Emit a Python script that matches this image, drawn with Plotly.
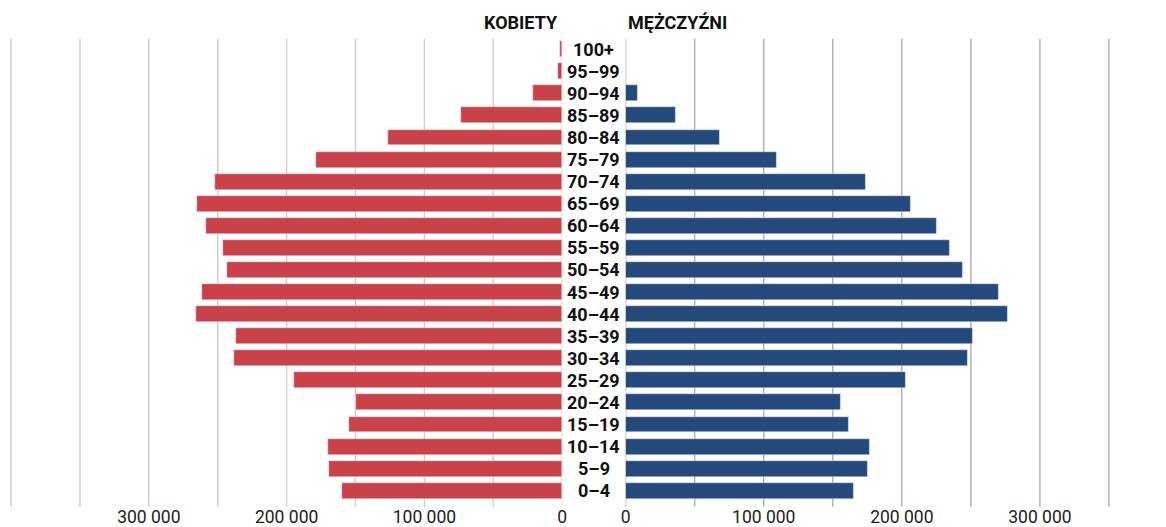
import plotly.graph_objects as go

age_groups = ["0–4", "5–9", "10–14", "15–19", "20–24", "25–29", "30–34", "35–39",
              "40–44", "45–49", "50–54", "55–59", "60–64", "65–69", "70–74", "75–79",
              "80–84", "85–89", "90–94", "95–99", "100+"]
women = [159700, 169200, 170000, 154800, 149700, 194800, 238400, 237000,
         266000, 261600, 243500, 246000, 258700, 265000, 252000, 178800,
         126500, 73400, 21000, 3300, 1500]
men = [165100, 175400, 176700, 161600, 155800, 202900, 247800, 251400,
       276800, 270300, 244200, 234800, 225400, 206500, 173900, 109200,
       68100, 36200, 8500, 0, 0]
tick_vals = [0, 100000, 200000, 300000]
tick_text = ["0", "100 000", "200 000", "300 000"]
grid_vals = [0, 50000, 100000, 150000, 200000, 250000, 300000, 350000, 400000]

W, H = 1166, 527
ypos = list(range(len(age_groups)))

fig = go.Figure()
fig.add_trace(go.Bar(x=women, y=ypos, orientation="h", marker_color="#c9424a",
                     width=0.72, xaxis="x", yaxis="y", showlegend=False, hoverinfo="x"))
fig.add_trace(go.Bar(x=men, y=ypos, orientation="h", marker_color="#24497a",
                     width=0.72, xaxis="x2", yaxis="y", showlegend=False, hoverinfo="x"))

axis_common = dict(showline=False, zeroline=False, ticks="", tickfont=dict(family="Roboto", size=17.5, color="#222"),
                   tickvals=tick_vals, ticktext=tick_text)

shapes = []
for g in grid_vals:
    shapes.append(dict(type="line", xref="x", yref="paper", x0=g, x1=g, y0=-0.006, y1=0.996,
                       line=dict(color="#cfcfcf", width=1.5), layer="below"))
    shapes.append(dict(type="line", xref="x2", yref="paper", x0=g, x1=g, y0=-0.006, y1=0.996,
                       line=dict(color="#b3b3b3", width=1.5), layer="below"))

annotations = []
for i, lab in enumerate(age_groups):
    annotations.append(dict(text=f"<b>{lab}</b>", x=594 / W, xref="paper", y=i, yref="y",
                            showarrow=False, xanchor="center", yanchor="middle",
                            font=dict(family="Roboto", size=18, color="#111")))
annotations.append(dict(text="<b>KOBIETY</b>", x=560 / W, xref="paper", y=1 + 15 / 469, yref="paper",
                        showarrow=False, xanchor="right", yanchor="middle",
                        font=dict(family="Roboto", size=18, color="#111")))
annotations.append(dict(text="<b>MĘŻCZYŹNI</b>", x=626 / W, xref="paper", y=1 + 15 / 469, yref="paper",
                        showarrow=False, xanchor="left", yanchor="middle",
                        font=dict(family="Roboto", size=18, color="#111")))

fig.update_layout(
    width=W, height=H,
    margin=dict(l=0, r=0, t=37, b=21),
    paper_bgcolor="white", plot_bgcolor="white",
    bargap=0,
    xaxis=dict(domain=[0, 562 / W], range=[404400, 0], showgrid=False, **axis_common),
    xaxis2=dict(domain=[626 / W, 1.0], range=[0, 387700], showgrid=False, **axis_common),
    yaxis=dict(range=[-0.6, 20.55], showticklabels=False, showgrid=False, zeroline=False, fixedrange=True),
    shapes=shapes,
    annotations=annotations,
)

fig.write_html("out.html", config={"displayModeBar": False},
               post_script="document.body.style.margin='0';document.body.style.padding='0';document.body.style.overflow='hidden';")
